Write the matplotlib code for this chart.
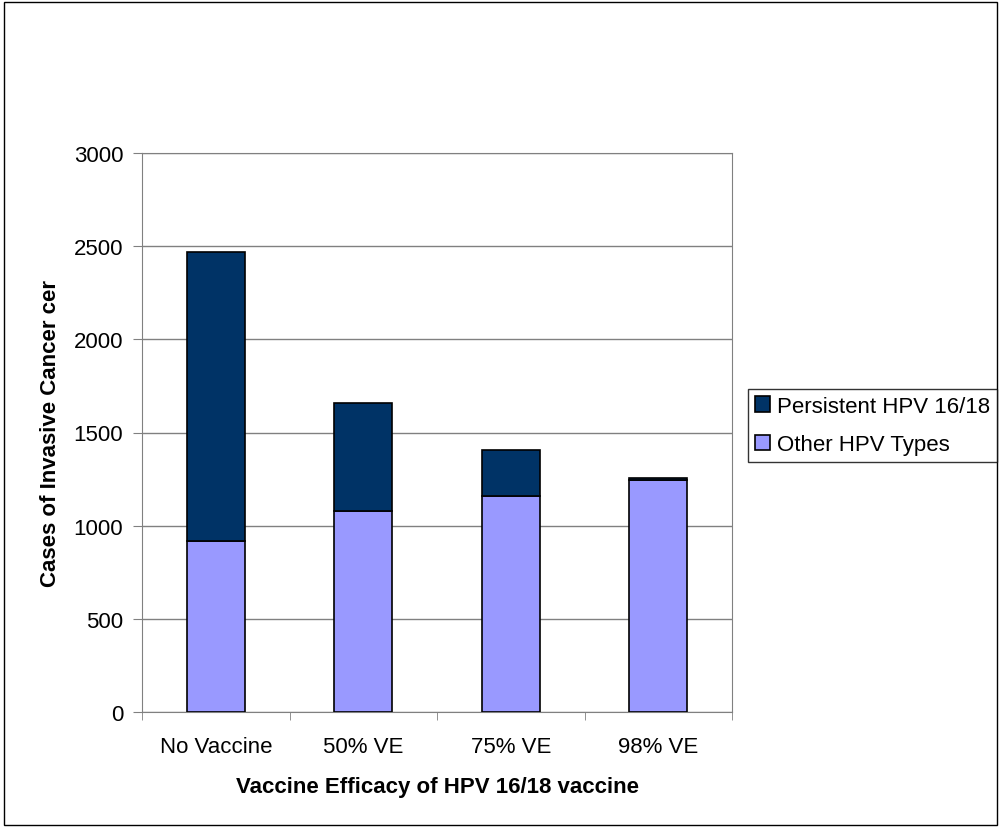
import matplotlib.pyplot as plt
import numpy as np
from matplotlib.patches import Rectangle

plt.rcParams['font.family'] = ['Liberation Sans', 'DejaVu Sans']

categories = ["No Vaccine", "50% VE", "75% VE", "98% VE"]
other_types = [918, 1079, 1159, 1245]
persistent = [1551, 579, 247, 11]

fig = plt.figure(figsize=(10.01, 8.29), dpi=100)
ax = fig.add_axes([142 / 1001, 1 - 713 / 829, 590 / 1001, 559 / 829])

x = np.arange(len(categories))
ax.bar(x, other_types, width=0.39, color="#9999ff", edgecolor="black",
       linewidth=1.2, label="Other HPV Types", zorder=3)
ax.bar(x, persistent, width=0.39, bottom=other_types, color="#003366",
       edgecolor="black", linewidth=1.2, label="Persistent HPV 16/18", zorder=3)

ax.set_xlim(-0.5, 3.5)
ax.set_ylim(0, 3000)
ax.set_yticks(np.arange(0, 3001, 500))
ax.yaxis.grid(True, color="#808080", linewidth=1)
ax.set_axisbelow(True)

ax.set_xticks(x)
ax.set_xticklabels(categories)
ax.set_xticks(np.arange(-0.5, 4, 1), minor=True)
ax.tick_params(axis="x", which="major", length=0, pad=17, labelsize=16)
ax.tick_params(axis="x", which="minor", length=6, color="#808080")
ax.tick_params(axis="y", length=6.5, color="#808080", labelsize=16, pad=7)

for side in ["top", "right", "left", "bottom"]:
    ax.spines[side].set_color("#808080")

ax.set_xlabel("Vaccine Efficacy of HPV 16/18 vaccine", fontsize=16,
              fontweight="bold", labelpad=14)
ax.set_ylabel("Cases of Invasive Cancer cer", fontsize=16,
              fontweight="bold", labelpad=9)

handles, labels = ax.get_legend_handles_labels()
leg = fig.legend(handles[::-1], labels[::-1], loc="upper left",
                 bbox_to_anchor=(748 / 1001, 1 - 390 / 829), fontsize=16,
                 frameon=True, fancybox=False, edgecolor="black",
                 handlelength=0.7, handleheight=0.7, handletextpad=0.3,
                 borderpad=0.3, labelspacing=0.8, borderaxespad=0)
leg.get_frame().set_linewidth(1)

fig.patches.append(Rectangle((4 / 1001, 1 - 826 / 829), 993 / 1001, 823 / 829,
                             transform=fig.transFigure, fill=False,
                             edgecolor="black", linewidth=1))

fig.savefig("out.png", dpi=100)
